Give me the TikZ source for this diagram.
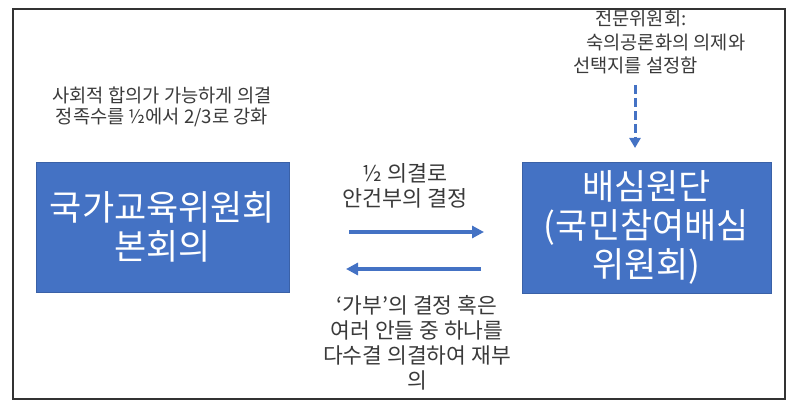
\documentclass[tikz,border=0pt]{standalone}
\usepackage{fontspec}
\setmainfont{Noto Sans CJK KR}
\usetikzlibrary{arrows.meta}
\definecolor{boxblue}{HTML}{4472C4}
\definecolor{txtgray}{HTML}{3A3A3A}
\begin{document}
\begin{tikzpicture}[x=1pt,y=-1pt,
  bigbox/.style={fill=boxblue, draw=boxblue!85!black, line width=0.6pt, text=white,
    align=center, inner sep=0pt, font=\fontsize{35}{39}\selectfont},
  lbl/.style={text=txtgray, align=center, inner sep=0pt, font=\fontsize{16}{24}\selectfont},
  arr/.style={draw=boxblue, line width=3.2pt, -{Triangle[length=12pt,width=12pt]}},
  dasharr/.style={draw=boxblue, line width=3pt, dash pattern=on 9pt off 4pt, -{Triangle[length=10pt,width=11pt]}},
  frame/.style={draw=black!80, line width=1.3pt}]
\useasboundingbox (0,0) rectangle (796,414);
\draw[frame] (13,9) rectangle (785,399);
\node[bigbox, minimum width=253pt, minimum height=130pt] (L) at (162.5,227) {국가교육위원회\\본회의};
\node[bigbox, minimum width=249pt, minimum height=131pt] (R) at (646.5,227.5) {배심원단\\(국민참여배심\\위원회)};
\node[lbl, font=\fontsize{18.7}{21}\selectfont] (tl) at (162,107) {사회적 합의가 가능하게 의결\\정족수를 ½에서 2/3로 강화};
\node[lbl, align=left, anchor=west, font=\fontsize{18.7}{23.5}\selectfont] (tr) at (573,42) {\hspace*{22pt}전문위원회:\\\hspace*{13pt}숙의공론화의 의제와\\선택지를 설정함};
\node[lbl, font=\fontsize{21.8}{25}\selectfont] (mt) at (405,186) {½ 의결로\\안건부의 결정};
\node[lbl, font=\fontsize{21.5}{25}\selectfont] (mb) at (417,342.5) {‘가부’의 결정 혹은\\여러 안들 중 하나를\\다수결 의결하여 재부\\의};
\coordinate (a1) at (349,232);
\coordinate (a2) at (484,232);
\coordinate (b1) at (481,269);
\coordinate (b2) at (346,269);
\draw[arr] (a1) -- (a2);
\draw[arr] (b1) -- (b2);
\coordinate (d1) at (635,85);
\coordinate (d2) at (635,148);
\draw[dasharr] (d1) -- (d2);
\end{tikzpicture}
\end{document}
